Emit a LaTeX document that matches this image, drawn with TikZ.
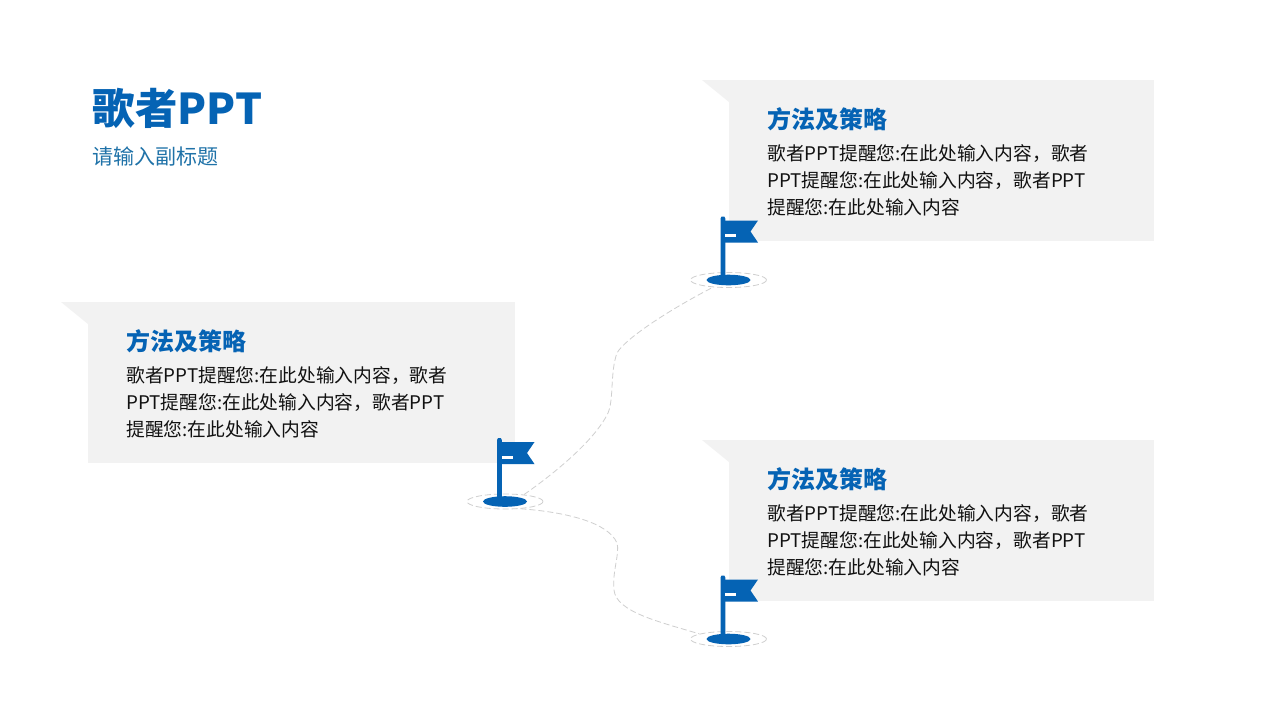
\documentclass[tikz,border=0pt]{standalone}
\usepackage{fontspec}
\usetikzlibrary{shapes.geometric}
\setmainfont{Noto Sans CJK SC}
\definecolor{brandblue}{HTML}{0563B4}
\definecolor{subblue}{HTML}{1F72A8}
\definecolor{panelgray}{HTML}{F2F2F2}
\definecolor{bodyink}{HTML}{111111}
\definecolor{routegray}{HTML}{CFCFCF}
\tikzset{
  panelfill/.style={fill=panelgray,draw=none},
  headtext/.style={anchor=west,inner sep=0pt,text=brandblue,font=\fontsize{12}{14}\selectfont\bfseries},
  bodytext/.style={anchor=north west,inner sep=0pt,align=left,text=bodyink,font=\fontsize{9.38}{13.5}\selectfont},
  ringmark/.style={ellipse,draw=routegray,dash pattern=on 3pt off 1.5pt,line width=0.4pt,minimum width=38pt,minimum height=7.5pt,inner sep=0pt},
  route/.style={draw=routegray,dash pattern=on 3pt off 1.5pt,line width=0.4pt},
  bluefill/.style={fill=brandblue,draw=none}
}
\newcommand{\flagmark}[3]{%
  \node[ringmark] (#3) at (#1,#2) {};
  \begin{scope}[shift={(#1,#2)}]
    \fill[bluefill] (0,0) ellipse (22 and 5.3);
    \fill[bluefill] (-8,0) -- (-8,-61.5) -- (-7,-63.5) -- (-4.2,-63.5) -- (-3.2,-61.5) -- (-3.2,0) -- cycle;
    \fill[bluefill] (-3.6,-59.5) -- (29.5,-59.5) -- (22,-48.5) -- (29.5,-37.5) -- (-3.6,-37.5) -- cycle;
    \fill[white] (-3.2,-46) rectangle (7.5,-43);
  \end{scope}}
\newcommand{\infopanel}[3]{%
  \fill[panelfill] (#1-27,#2) -- (#1,#2) -- (#1,#2+22) -- cycle;
  \fill[panelfill] (#1,#2) rectangle ++(#3,161);
  \node[headtext] (head#1) at (#1+38,#2+39) {方法及策略};
  \node[bodytext] (body#1) at (#1+38,#2+64.5) {歌者PPT提醒您:在此处输入内容，歌者\\PPT提醒您:在此处输入内容，歌者PPT\\提醒您:在此处输入内容};}
\begin{document}
\begin{tikzpicture}[x=0.5pt,y=-0.5pt]
\useasboundingbox (0,0) rectangle (1280,720);
\fill[white] (0,0) rectangle (1280,720);
\node[anchor=west,inner sep=0pt,text=brandblue,font=\fontsize{21.2}{25}\selectfont\bfseries] (maintitle) at (92.5,108.5) {歌者PPT};
\node[anchor=west,inner sep=0pt,text=subblue,font=\fontsize{10.5}{13}\selectfont] (subtitle) at (92.5,156.5) {请输入副标题};
\infopanel{729}{80}{425}
\infopanel{88}{302}{427}
\infopanel{729}{440}{425}
\flagmark{505}{501.5}{ringA}
\flagmark{728.5}{280}{ringB}
\flagmark{728.5}{639}{ringC}
\coordinate (ab1) at (608,413);
\coordinate (ab2) at (617,353);
\coordinate (ac1) at (617,543);
\coordinate (ac2) at (614,590);
\draw[route] (ringA.20) .. controls (555,473) and (595,440) .. (ab1) .. controls (614,399) and (610,372) .. (ab2) .. controls (624,340) and (665,312) .. (ringB.205);
\draw[route] (ringA.-25) .. controls (565,512) and (608,522) .. (ac1) .. controls (620,553) and (612,572) .. (ac2) .. controls (616,612) and (660,622) .. (ringC.170);
\end{tikzpicture}
\end{document}
